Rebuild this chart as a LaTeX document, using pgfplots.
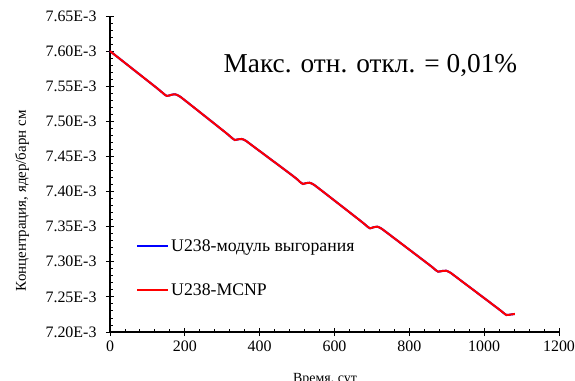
\documentclass[border=0pt]{standalone}
\usepackage{fontspec}
\setmainfont{Liberation Serif}
\usepackage{pgfplots}
\pgfplotsset{compat=1.18}
\begin{document}
\begin{tikzpicture}
\begin{axis}[
  scale only axis,
  width=449bp, height=316bp,
  xmin=0, xmax=1200, ymin=7.20, ymax=7.65,
  axis lines=left,
  axis line style={-, line width=1.1bp, black},
  xtick={0,200,...,1200},
  minor x tick num=4,
  ytick={7.20,7.25,7.30,7.35,7.40,7.45,7.50,7.55,7.60,7.65},
  yticklabels={7.20E-3,7.25E-3,7.30E-3,7.35E-3,7.40E-3,7.45E-3,7.50E-3,7.55E-3,7.60E-3,7.65E-3},
  minor y tick num=4,
  tick align=center,
  major tick length=8bp,
  minor tick length=3bp,
  minor x tick style={yshift=1.5bp},
  minor y tick style={xshift=1.5bp},
  tick style={black, line width=0.9bp},
  /pgf/number format/assume math mode=true,
  /pgf/number format/1000 sep={},
  scaled x ticks=false,
  tick label style={font=\fontsize{16}{19}\selectfont},
  xticklabel style={yshift=-1bp},
  yticklabel style={xshift=-6bp},
  xlabel={Время, сут},
  ylabel={Концентрация, ядер/барн см},
  xlabel style={font=\fontsize{14}{17}\selectfont, at={(axis description cs:0.479,-0.12)}, anchor=north},
  ylabel style={font=\fontsize{15}{18}\selectfont, at={(axis description cs:-0.196,0.415)}, anchor=center},
  legend style={at={(rel axis cs:0.058,0.30)}, anchor=north west, draw=none, fill=none,
    font=\fontsize{17.8}{20}\selectfont, row sep=27bp, inner sep=0pt},
  legend cell align=left,
  legend image code/.code={\draw[#1, line width=2bp] (0bp,0bp) -- (31bp,0bp);},
  clip=false,
]
\coordinate (BL) at (rel axis cs:0,0);
\coordinate (TR) at (rel axis cs:1,1);
\addplot[blue, line width=2bp, smooth] coordinates {
(0,7.6000) (60,7.5748) (125,7.5475) (143,7.5395) (152,7.5362) (163,7.5376) (174,7.5385) (184,7.5362) (200,7.5300)
(307,7.4848) (325,7.4767) (334,7.4734) (343,7.4744) (352,7.4749) (362,7.4726) (378,7.4664)
(489,7.4222) (507,7.4141) (516,7.4108) (524,7.4120) (533,7.4126) (543,7.4103) (559,7.4041)
(668,7.3589) (686,7.3510) (695,7.3477) (705,7.3493) (714,7.3500) (724,7.3477) (740,7.3415)
(850,7.2970) (868,7.2893) (877,7.2860) (888,7.2869) (898,7.2873) (908,7.2850) (924,7.2788)
(1033,7.2350) (1051,7.2275) (1060,7.2242) (1071,7.2249) (1082,7.2257)
};
\addlegendentry{U238-модуль выгорания}
\addplot[red, line width=2bp, smooth] coordinates {
(0,7.6000) (60,7.5748) (125,7.5475) (143,7.5395) (152,7.5362) (163,7.5376) (174,7.5385) (184,7.5362) (200,7.5300)
(307,7.4848) (325,7.4767) (334,7.4734) (343,7.4744) (352,7.4749) (362,7.4726) (378,7.4664)
(489,7.4222) (507,7.4141) (516,7.4108) (524,7.4120) (533,7.4126) (543,7.4103) (559,7.4041)
(668,7.3589) (686,7.3510) (695,7.3477) (705,7.3493) (714,7.3500) (724,7.3477) (740,7.3415)
(850,7.2970) (868,7.2893) (877,7.2860) (888,7.2869) (898,7.2873) (908,7.2850) (924,7.2788)
(1033,7.2350) (1051,7.2275) (1060,7.2242) (1071,7.2249) (1082,7.2257)
};
\addlegendentry{U238-MCNP}
\node[anchor=base, font=\fontsize{27.4}{32}\selectfont, inner sep=0pt] at (axis cs:696,7.570) {Макс. отн. откл. = 0,01\%};
\end{axis}
\pgfresetboundingbox
\path ([shift={(-110bp,-49bp)}]BL) rectangle ([shift={(16bp,16bp)}]TR);
\end{tikzpicture}
\end{document}
